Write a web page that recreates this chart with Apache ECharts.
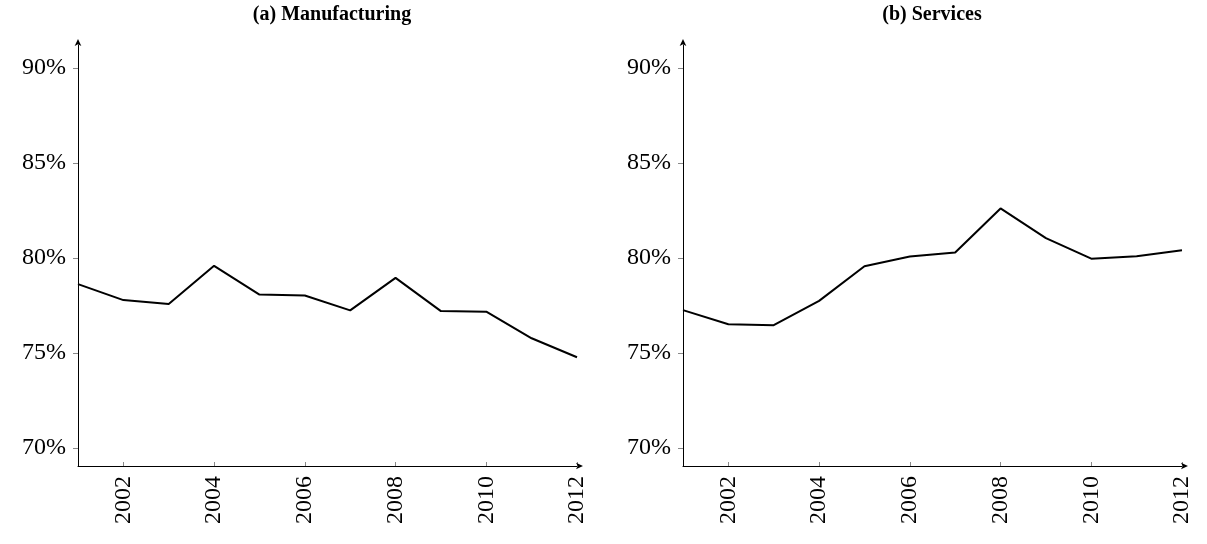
<!DOCTYPE html>
<html>
<head>
<meta charset="utf-8">
<script src="https://cdn.jsdelivr.net/npm/echarts@6/dist/echarts.min.js"></script>
<style>
    html, body { margin: 0; padding: 0; background: #fff; }
    #chart { width: 1207px; height: 544px; }
</style>
</head>
<body>
<div id="chart"></div>
<script>
// data
const years = [2001, 2002, 2003, 2004, 2005, 2006, 2007, 2008, 2009, 2010, 2011, 2012]
const manufacturing = [78.62, 77.78, 77.57, 79.58, 78.07, 78.02, 77.24, 78.95, 77.2, 77.17, 75.77, 74.77]
const services = [77.25, 76.51, 76.46, 77.74, 79.56, 80.07, 80.28, 82.6, 81.04, 79.96, 80.09, 80.4]
const yTicks = [70, 75, 80, 85, 90]
const xTicks = [2002, 2004, 2006, 2008, 2010, 2012]
const titles = ["(a) Manufacturing", "(b) Services"]

const font = "Liberation Serif"
const lefts = [78, 683]
const centers = [327, 927]

const chart = echarts.init(document.getElementById("chart"))

const axisLine = {
    symbol: ["none", "arrow"],
    symbolSize: [5, 7],
    symbolOffset: [0, 6],
    lineStyle: { color: "#000", width: 1 },
}

const option = {
    animation: false,
    title: titles.map((t, i) => ({
        text: t,
        left: centers[i],
        textAlign: "center",
        top: 0,
        textStyle: { fontFamily: font, fontWeight: "bold", fontSize: 20, color: "#000" },
    })),
    grid: lefts.map(l => ({ left: l, width: 499, top: 45, height: 421 })),
    xAxis: lefts.map((l, i) => ({
        type: "value",
        gridIndex: i,
        min: 2001,
        max: 2012,
        axisLine: axisLine,
        splitLine: { show: false },
        axisTick: { inside: true, length: 4, customValues: xTicks, lineStyle: { color: "#888" } },
        axisLabel: {
            customValues: xTicks,
            rotate: 90,
            margin: 10,
            fontFamily: font,
            fontSize: 24,
            color: "#000",
            formatter: v => String(v),
        },
    })),
    yAxis: lefts.map((l, i) => ({
        type: "value",
        gridIndex: i,
        min: 69.05,
        max: 91.2,
        axisLine: Object.assign({}, axisLine, { show: true }),
        splitLine: { show: false },
        axisTick: { show: true, length: 5, customValues: yTicks, lineStyle: { color: "#888" } },
        axisLabel: {
            customValues: yTicks,
            margin: 12,
            fontFamily: font,
            fontSize: 24,
            color: "#000",
            formatter: v => v + "%",
        },
    })),
    series: [manufacturing, services].map((d, i) => ({
        type: "line",
        xAxisIndex: i,
        yAxisIndex: i,
        data: years.map((y, k) => [y, d[k]]),
        showSymbol: false,
        lineStyle: { color: "#000", width: 2 },
    })),
}

chart.setOption(option)
</script>
</body>
</html>
